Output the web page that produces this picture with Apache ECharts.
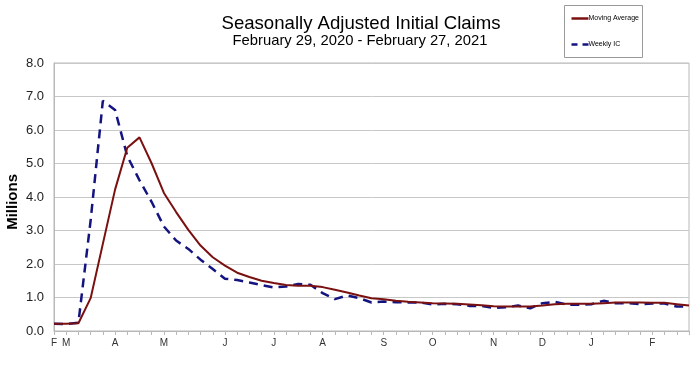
<!DOCTYPE html>
<html>
<head>
<meta charset="utf-8">
<script src="https://cdn.jsdelivr.net/npm/echarts@6/dist/echarts.min.js"></script>
<style>
html,body{margin:0;padding:0;background:#fff;}
#chart{width:700px;height:366px;}
</style>
</head>
<body>
<div id="chart"></div>
<script>
// Week-ending dates (Saturdays), Feb 29 2020 - Feb 27 2021
var weeks = [
  '2020-02-29','2020-03-07','2020-03-14','2020-03-21','2020-03-28',
  '2020-04-04','2020-04-11','2020-04-18','2020-04-25',
  '2020-05-02','2020-05-09','2020-05-16','2020-05-23','2020-05-30',
  '2020-06-06','2020-06-13','2020-06-20','2020-06-27',
  '2020-07-04','2020-07-11','2020-07-18','2020-07-25',
  '2020-08-01','2020-08-08','2020-08-15','2020-08-22','2020-08-29',
  '2020-09-05','2020-09-12','2020-09-19','2020-09-26',
  '2020-10-03','2020-10-10','2020-10-17','2020-10-24','2020-10-31',
  '2020-11-07','2020-11-14','2020-11-21','2020-11-28',
  '2020-12-05','2020-12-12','2020-12-19','2020-12-26',
  '2021-01-02','2021-01-09','2021-01-16','2021-01-23','2021-01-30',
  '2021-02-06','2021-02-13','2021-02-20','2021-02-27'
];

// Tick labels shown under each week ('' = tick only)
var tickLabels = [
  'F','M','','','',
  'A','','','',
  'M','','','','',
  'J','','','',
  'J','','','',
  'A','','','','',
  'S','','','',
  'O','','','','',
  'N','','','',
  'D','','','',
  'J','','','','',
  'F','','',''
];

// Millions
var movingAverage = [
  0.22,0.22,0.23,0.98,2.60,
  4.22,5.47,5.78,5.00,
  4.12,3.55,3.02,2.55,2.20,
  1.95,1.74,1.61,1.50,
  1.43,1.37,1.35,1.35,
  1.31,1.23,1.15,1.06,0.98,
  0.95,0.90,0.87,0.85,
  0.83,0.82,0.81,0.79,0.77,
  0.74,0.73,0.73,0.73,
  0.76,0.80,0.81,0.81,
  0.81,0.83,0.85,0.85,0.85,
  0.84,0.84,0.80,0.76
];

var weeklyIC = [
  0.22,0.21,0.25,3.30,6.87,
  6.60,5.22,4.50,3.85,
  3.12,2.70,2.45,2.13,1.85,
  1.56,1.52,1.45,1.37,
  1.30,1.33,1.40,1.38,
  1.13,0.95,1.06,0.98,0.85,
  0.88,0.86,0.85,0.85,
  0.79,0.81,0.80,0.75,0.75,
  0.69,0.71,0.76,0.68,
  0.83,0.87,0.79,0.78,
  0.80,0.90,0.83,0.83,0.80,
  0.82,0.82,0.73,0.73
];

var seriesNames = ['Moving Average', 'Weekly IC'];
var yTicks = [0,1,2,3,4,5,6,7,8];

var maColor = '#7a1010';
var icColor = '#141480';

var chart = echarts.init(document.getElementById('chart'), null, {renderer:'canvas'});
var font = '"Liberation Sans", Arial, sans-serif';

chart.setOption({
  animation: false,
  backgroundColor: '#ffffff',
  textStyle: {fontFamily: font},
  title: [
    {
      text: 'Seasonally Adjusted Initial Claims',
      left: 356, top: 9, textAlign: 'center',
      textStyle: {fontFamily: font, fontSize: 18.6, fontWeight: 'normal', color: '#000'}
    },
    {
      text: 'February 29, 2020 - February 27, 2021',
      left: 355, top: 28, textAlign: 'center',
      textStyle: {fontFamily: font, fontSize: 14.8, fontWeight: 'normal', color: '#000'}
    }
  ],
  graphic: [
    {
      type: 'text',
      left: 5, top: 174,
      rotation: Math.PI/2,
      style: {text: 'Millions', font: 'bold 15px ' + font, fill: '#000'}
    },
    {
      type: 'group',
      left: 564, top: 5,
      children: [
        {type: 'rect', shape: {x: 0, y: 0, width: 78, height: 52},
         style: {fill: '#fff', stroke: '#999', lineWidth: 1}},
        {type: 'line', shape: {x1: 7, y1: 13, x2: 24, y2: 13},
         style: {stroke: maColor, lineWidth: 2.5}},
        {type: 'text', x: 24, y: 13,
         style: {text: seriesNames[0], font: '7px ' + font, fill: '#000', verticalAlign: 'middle'}},
        {type: 'line', shape: {x1: 7, y1: 39, x2: 24, y2: 39},
         style: {stroke: icColor, lineWidth: 2.5, lineDash: [6, 5]}},
        {type: 'text', x: 24, y: 39,
         style: {text: seriesNames[1], font: '7px ' + font, fill: '#000', verticalAlign: 'middle'}}
      ]
    }
  ],
  grid: {
    left: 54, right: 11, top: 63, bottom: 35,
    show: true, borderColor: '#b8b8b8', borderWidth: 1
  },
  xAxis: {
    type: 'category',
    data: weeks,
    boundaryGap: false,
    axisLine: {show: true, lineStyle: {color: '#b8b8b8', width: 1}},
    axisTick: {show: true, interval: 0, length: 4, lineStyle: {color: '#b8b8b8'}},
    axisLabel: {
      interval: 0, margin: 7, fontSize: 10, color: '#333', fontFamily: font,
      formatter: function (v, i) { return tickLabels[i]; }
    },
    splitLine: {show: false}
  },
  yAxis: {
    type: 'value',
    min: yTicks[0], max: yTicks[yTicks.length-1], interval: 1,
    axisLine: {show: true, lineStyle: {color: '#b8b8b8'}},
    axisTick: {show: false},
    axisLabel: {
      margin: 10, fontSize: 13, color: '#222', fontFamily: font,
      formatter: function (v) { return v.toFixed(1); }
    },
    splitLine: {show: true, lineStyle: {color: '#c8c8c8', width: 1}}
  },
  series: [
    {
      name: seriesNames[0],
      type: 'line',
      data: movingAverage,
      symbol: 'none',
      lineStyle: {color: maColor, width: 2},
      itemStyle: {color: maColor},
      z: 3
    },
    {
      name: seriesNames[1],
      type: 'line',
      data: weeklyIC,
      symbol: 'none',
      lineStyle: {color: icColor, width: 2.5, type: [9, 6]},
      itemStyle: {color: icColor},
      z: 2
    }
  ]
});
</script>
</body>
</html>
